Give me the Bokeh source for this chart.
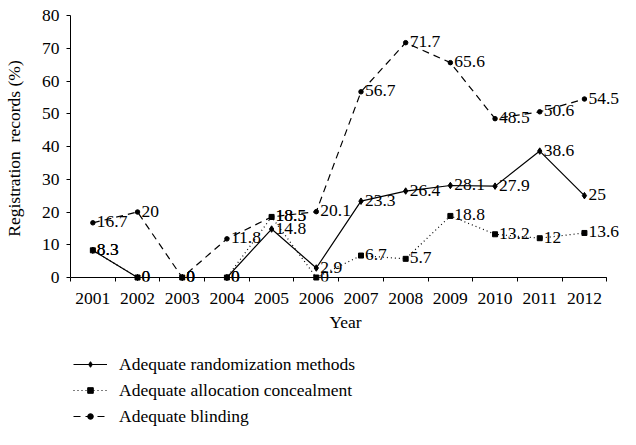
from bokeh.plotting import figure
from bokeh.layouts import column
from bokeh.models import (Range1d, FixedTicker, ColumnDataSource, LabelSet,
                          Legend, LegendItem)
from bokeh.embed import file_html
from bokeh.resources import INLINE

years = [2001, 2002, 2003, 2004, 2005, 2006, 2007, 2008, 2009, 2010, 2011, 2012]
randomization = [8.3, 0, 0, 0, 14.8, 2.9, 23.3, 26.4, 28.1, 27.9, 38.6, 25]
allocation = [8.3, 0, 0, 0, 18.5, 0, 6.7, 5.7, 18.8, 13.2, 12, 13.6]
blinding = [16.7, 20, 0, 11.8, 18.5, 20.1, 56.7, 71.7, 65.6, 48.5, 50.6, 54.5]
y_ticks = [0, 10, 20, 30, 40, 50, 60, 70, 80]
series_names = ["Adequate randomization methods",
                "Adequate allocation concealment",
                "Adequate blinding"]

FONT = "Liberation Serif"
FS = "17.5px"

x_lo = years[0] - 0.5
x_hi = years[-1] + 0.5
y_lo, y_hi = y_ticks[0], y_ticks[-1]

STYLES = [dict(line_dash="solid", marker="diamond", size=6.5),
          dict(line_dash="1 3", marker="square", size=5),
          dict(line_dash="7 5", marker="circle", size=4.5)]
SERIES = [randomization, allocation, blinding]

# ---------------- main chart ----------------
p = figure(width=620, height=340, output_backend="svg", toolbar_location=None,
           x_range=Range1d(x_lo, x_hi + 0.307),
           y_range=Range1d(y_lo - 1.22, y_hi),
           min_border_left=70, min_border_right=0, min_border_top=15,
           min_border_bottom=59)
p.outline_line_color = None
p.grid.visible = False

xa = p.xaxis[0]
xa.bounds = (x_lo, x_hi)
xa.ticker = FixedTicker(ticks=years,
                        minor_ticks=[y - 0.5 for y in years] + [x_hi])
xa.axis_line_color = None
xa.major_tick_out = 0
xa.major_tick_in = 0
xa.minor_tick_out = 0
xa.minor_tick_in = 4
xa.minor_tick_line_color = "black"
xa.major_label_text_font = FONT
xa.major_label_text_font_size = FS
xa.major_label_text_color = "black"
xa.major_label_standoff = 11
xa.axis_label = "Year"
xa.axis_label_text_font = FONT
xa.axis_label_text_font_size = FS
xa.axis_label_text_font_style = "normal"
xa.axis_label_text_color = "black"
xa.axis_label_standoff = 5

ya = p.yaxis[0]
ya.bounds = (y_lo, y_hi)
ya.ticker = FixedTicker(ticks=y_ticks)
ya.major_tick_out = 4
ya.major_tick_in = 0
ya.minor_tick_out = 0
ya.minor_tick_in = 0
ya.axis_line_color = "black"
ya.major_tick_line_color = "black"
ya.major_label_text_font = FONT
ya.major_label_text_font_size = FS
ya.major_label_text_color = "black"
ya.major_label_standoff = 7
ya.axis_label = "Registration\u00a0 records (%)"
ya.axis_label_text_font = FONT
ya.axis_label_text_font_size = FS
ya.axis_label_text_font_style = "normal"
ya.axis_label_text_color = "black"
ya.axis_label_standoff = 15

# x axis baseline at y = 0
p.segment(x0=[x_lo], y0=[y_lo], x1=[x_hi], y1=[y_lo], line_color="black",
          line_width=1)

for vals, st in zip(SERIES, STYLES):
    src = ColumnDataSource(dict(x=years, y=vals, t=[f"{v:g}" for v in vals]))
    p.line("x", "y", source=src, line_color="black", line_width=1.2,
           line_dash=st["line_dash"])
    p.scatter("x", "y", source=src, marker=st["marker"], size=st["size"],
              color="black")
    p.add_layout(LabelSet(x="x", y="y", text="t", source=src, x_offset=4,
                          y_offset=1, text_baseline="middle",
                          text_font=FONT, text_font_size=FS,
                          text_color="black"))

# ---------------- legend strip ----------------
q = figure(width=620, height=89, output_backend="svg", toolbar_location=None,
           x_range=Range1d(0, 1), y_range=Range1d(0, 1),
           x_axis_location=None, y_axis_location=None, min_border=0)
q.outline_line_color = None
q.grid.visible = False

items = []
for name, vals, st in zip(series_names, SERIES, STYLES):
    # the series drawn again, outside this strip's view, only to key the legend
    lr = q.line(years, vals, line_color="black", line_width=1.2,
                line_dash=st["line_dash"])
    mr = q.scatter(years, vals, marker=st["marker"], size=st["size"],
                   color="black")
    items.append(LegendItem(label=name, renderers=[lr, mr]))

legend = Legend(items=items, location=(3, 0), orientation="vertical",
                glyph_width=34, glyph_height=14, label_height=26,
                label_standoff=12, spacing=0, padding=0, margin=0,
                label_text_font=FONT, label_text_font_size=FS,
                label_text_color="black", label_text_baseline="middle",
                border_line_alpha=0, background_fill_alpha=0)
q.add_layout(legend, "center")

layout = column(p, q, spacing=0)
open("out.html", "w").write(file_html(layout, INLINE))
